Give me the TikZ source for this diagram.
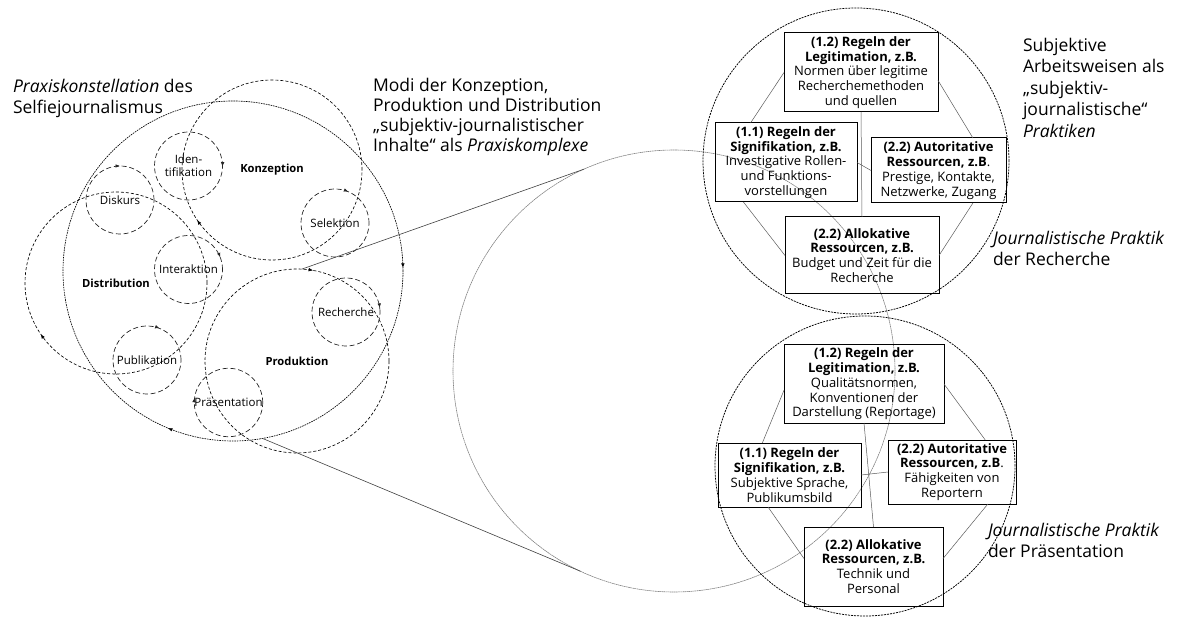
\documentclass[tikz,border=0pt]{standalone}
\usepackage{fontspec}
\setmainfont{Open Sans}
\usetikzlibrary{decorations.markings,arrows.meta,calc}
\definecolor{conn}{HTML}{5A5A5A}
\definecolor{lensgray}{HTML}{808080}
\tikzset{
  cw/.style={postaction={decorate,decoration={markings,mark=at position #1 with {\arrowreversed{Latex[length=4.5pt,width=3.6pt]}}}}},
  cwtwo/.style 2 args={postaction={decorate,decoration={markings,
      mark=at position #1 with {\arrowreversed{Latex[length=4.5pt,width=3.6pt]}},
      mark=at position #2 with {\arrowreversed{Latex[length=4.5pt,width=3.6pt]}}}}},
  smallc/.style={circle, draw=black!85, line width=0.7pt, dash pattern=on 5pt off 2.8pt,
      minimum size=68pt, inner sep=0pt, outer sep=0pt, align=center,
      font=\fontsize{11.5}{13.3}\selectfont},
  midc/.style={circle, draw=black, line width=0.65pt, dash pattern=on 3pt off 2pt,
      minimum size=#1, inner sep=0pt, outer sep=0pt,
      font=\fontsize{11.2}{13}\selectfont\bfseries},
  bigc/.style={circle, draw=black, line width=0.65pt, dash pattern=on 1.6pt off 0.9pt,
      minimum size=#1, inner sep=0pt, outer sep=0pt},
  lensc/.style={circle, draw=lensgray, line width=0.6pt, dash pattern=on 1.6pt off 0.5pt,
      minimum size=442pt, inner sep=0pt, outer sep=0pt},
  rightc/.style={circle, draw=black, line width=0.75pt, dash pattern=on 2pt off 1pt,
      minimum size=#1, inner sep=0pt, outer sep=0pt},
  rbox/.style={draw=black, line width=1pt, inner sep=2pt, outer sep=0pt, align=center,
      font=\fontsize{13}{14.8}\selectfont},
  link/.style={draw=conn, line width=0.5pt},
  tang/.style={draw=black!75, line width=0.6pt},
  head/.style={inner sep=0pt, outer sep=0pt, align=left, anchor=north west,
      font=\fontsize{17.5}{21.5}\selectfont},
}
\begin{document}
\begin{tikzpicture}[x=1pt,y=1pt]
\useasboundingbox (0,0) rectangle (1184,-620);

% zoom lens circle
\node[lensc] (lens) at (674,-371) {};

% right circles
\node[rightc=306pt] (rtop) at (856,-161) {};
\node[rightc=300pt] (rbot) at (865,-466) {};

% top circle boxes (Recherche)
\node[rbox, minimum width=154pt, minimum height=79pt] (b12) at (861,-72.5)
  {\textbf{(1.2) Regeln der}\\\textbf{Legitimation, z.B.}\\Normen über legitime\\Recherchemethoden\\und quellen};
\node[rbox, minimum width=142pt, minimum height=79pt] (b11) at (786,-162.5)
  {\textbf{(1.1) Regeln der}\\\textbf{Signifikation, z.B.}\\Investigative Rollen-\\und Funktions-\\vorstellungen};
\node[rbox, minimum width=135pt, minimum height=65pt] (baut) at (938.5,-170.5)
  {\textbf{(2.2) Autoritative}\\\textbf{Ressourcen, z.B}.\\Prestige, Kontakte,\\Netzwerke, Zugang};
\node[rbox, minimum width=154pt, minimum height=77pt] (ball) at (862,-255.5)
  {\textbf{(2.2) Allokative}\\\textbf{Ressourcen, z.B.}\\Budget und Zeit für die\\Recherche};

\draw[link] (b12.south) -- (ball.north);
\draw[link] (b12.west) -- ($(b11.north west)!0.25!(b11.north east)$);
\draw[link] ($(b12.north east)!0.6!(b12.south east)$) -- ($(baut.north west)!0.755!(baut.north east)$);
\draw[link] ($(b11.south west)!0.2!(b11.south east)$) -- (ball.west);
\draw[link] ($(baut.south west)!0.755!(baut.south east)$) -- (ball.east);
\draw[link] (b11.east) -- (baut.west);

% bottom circle boxes (Praesentation)
\node[rbox, minimum width=160pt, minimum height=78pt] (c12) at (864,-384)
  {\textbf{(1.2) Regeln der}\\\textbf{Legitimation, z.B.}\\Qualitätsnormen,\\Konventionen der\\Darstellung (Reportage)};
\node[rbox, minimum width=143pt, minimum height=64pt] (c11) at (789.5,-475)
  {\textbf{(1.1) Regeln der}\\\textbf{Signifikation, z.B.}\\Subjektive Sprache,\\Publikumsbild};
\node[rbox, minimum width=128pt, minimum height=64pt] (caut) at (952,-472)
  {\textbf{(2.2) Autoritative}\\\textbf{Ressourcen, z.B}.\\Fähigkeiten von\\Reportern};
\node[rbox, minimum width=139pt, minimum height=79pt] (call) at (873.5,-566.5)
  {\textbf{(2.2) Allokative}\\\textbf{Ressourcen, z.B.}\\Technik und\\Personal};

\draw[link] (c12.south) -- (call.north);
\draw[link] ($(c12.north west)!0.58!(c12.south west)$) -- ($(c11.north west)!0.31!(c11.north east)$);
\draw[link] (c12.east) -- ($(caut.north west)!0.76!(caut.north east)$);
\draw[link] ($(c11.south west)!0.35!(c11.south east)$) -- ($(call.north west)!0.4!(call.south west)$);
\draw[link] ($(caut.south west)!0.78!(caut.south east)$) -- ($(call.north east)!0.4!(call.south east)$);
\draw[link] (c11.east) -- (caut.west);

% left cluster
\node[bigc=340pt, cwtwo={0.003}{0.6875}] (praxis) at (233,-271) {};
\node[midc=180pt, cw=0.594] (konz) at (272,-170) {Konzeption};
\node[midc=182pt, cw=0.595] (distr) at (116,-283) {Distribution};
\node[midc=184pt, cw=0.222] (prod) at (297,-361) {Produktion};

\node[smallc, cw=0.997] (ident) at (188.5,-166) {Iden-\\tifikation};
\node[smallc, cw=0.25] (disk) at (120,-200) {Diskurs};
\node[smallc, cw=0.058] (inter) at (188.5,-269.5) {Interaktion};
\node[smallc, cw=0.186] (selek) at (335,-223) {Selektion};
\node[smallc, cw=0.019] (rech) at (346,-312) {Recherche};
\node[smallc, cw=0.19] (publ) at (147,-360) {Publikation};
\node[smallc, cw=0.478] (praes) at (228.5,-402.5) {Präsentation};

% lines to the lens
\draw[tang] (prod.87) -- (lens.114.8);
\draw[tang] (praxis.280) -- (lens.245.4);

% headings
\node[head] (t1) at (13,-79) {\textit{Praxiskonstellation} des\\Selfiejournalismus};
\node[head, font=\fontsize{17.5}{20}\selectfont] (t2) at (373,-78)
  {Modi der Konzeption,\\Produktion und Distribution\\„subjektiv-journalistischer\\Inhalte“ als \textit{Praxiskomplexe}};
\node[head] (t3) at (1023,-38)
  {Subjektive\\Arbeitsweisen als\\„subjektiv-\\journalistische“\\\textit{Praktiken}};
\node[head] (t4) at (993,-231) {\textit{Journalistische Praktik}\\der Recherche};
\node[head] (t5) at (988,-523) {\textit{Journalistische Praktik}\\der Präsentation};
\end{tikzpicture}
\end{document}
